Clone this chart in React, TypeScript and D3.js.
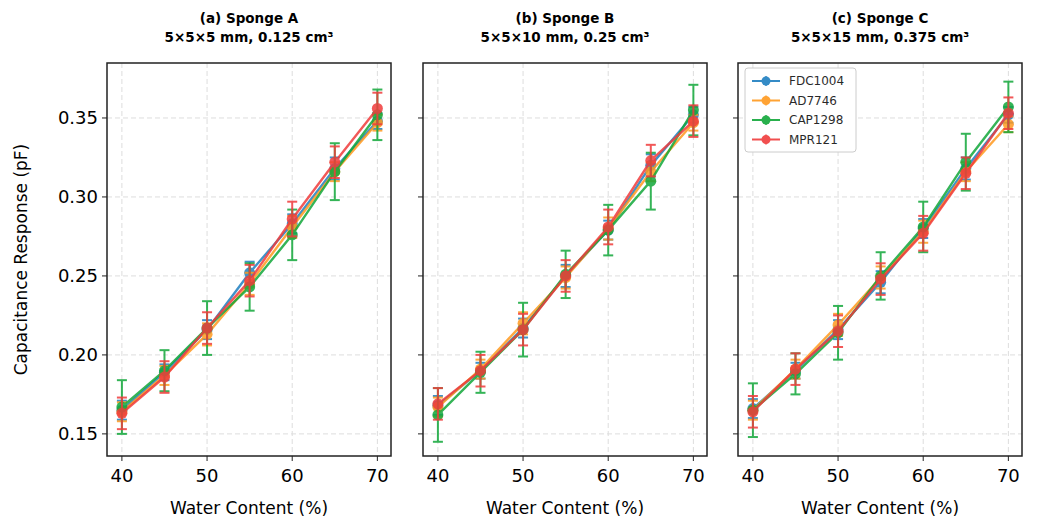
import * as d3 from 'd3';

const xs = [40, 45, 50, 55, 60, 65, 70];
const seriesNames = ['FDC1004', 'AD7746', 'CAP1298', 'MPR121'];
const colors = ['#1f7fc0', '#ff9a1f', '#12a83a', '#f03c3c'];
const titles = [['(a) Sponge A', '5×5×5 mm, 0.125 cm³'], ['(b) Sponge B', '5×5×10 mm, 0.25 cm³'], ['(c) Sponge C', '5×5×15 mm, 0.375 cm³']];
const yTicks = [0.15, 0.2, 0.25, 0.3, 0.35];
const xTicks = [40, 50, 60, 70];

const valuesA = [
  [0.165, 0.189, 0.216, 0.252, 0.283, 0.318, 0.348],
  [0.164, 0.187, 0.213, 0.245, 0.281, 0.316, 0.347],
  [0.167, 0.190, 0.217, 0.243, 0.276, 0.316, 0.352],
  [0.163, 0.186, 0.217, 0.247, 0.286, 0.322, 0.356],
];
const valuesB = [
  [0.168, 0.190, 0.217, 0.250, 0.279, 0.320, 0.352],
  [0.167, 0.191, 0.220, 0.249, 0.280, 0.316, 0.347],
  [0.162, 0.189, 0.216, 0.251, 0.279, 0.310, 0.355],
  [0.169, 0.190, 0.216, 0.250, 0.281, 0.323, 0.348],
];
const valuesC = [
  [0.166, 0.190, 0.216, 0.246, 0.280, 0.318, 0.352],
  [0.165, 0.191, 0.219, 0.249, 0.278, 0.316, 0.346],
  [0.165, 0.188, 0.214, 0.250, 0.281, 0.322, 0.357],
  [0.164, 0.191, 0.215, 0.248, 0.277, 0.315, 0.353],
];
const errors = [
  [0.006, 0.005, 0.006, 0.007, 0.006, 0.007, 0.005],
  [0.006, 0.006, 0.007, 0.007, 0.007, 0.006, 0.005],
  [0.017, 0.013, 0.017, 0.015, 0.016, 0.018, 0.016],
  [0.010, 0.010, 0.010, 0.010, 0.011, 0.010, 0.010],
];
const panels = [valuesA, valuesB, valuesC];

const W = 1038, H = 532;
const panelLeft = [107, 423, 738];
const pw = 284, top = 63, bottom = 456;

export default function App() {
  const y = d3.scaleLinear().domain([0.136, 0.3848]).range([bottom, top]);
  return (
    <svg width={W} height={H} style={{ position: 'absolute', left: 0, top: 0, fontFamily: 'DejaVu Sans' }}>
      <rect width={W} height={H} fill="white" />
      <text transform={`translate(27,${(top + bottom) / 2}) rotate(-90)`} textAnchor="middle" fontSize={17}>Capacitance Response (pF)</text>
      {panels.map((vals, p) => {
        const x = d3.scaleLinear().domain([38.25, 71.6]).range([panelLeft[p], panelLeft[p] + pw]);
        const line = d3.line<number>().x((_, i) => x(xs[i])).y(v => y(v));
        return (
          <g key={p}>
            <text x={panelLeft[p] + pw / 2} y={23} textAnchor="middle" fontSize={13.5} fontWeight="bold">{titles[p][0]}</text>
            <text x={panelLeft[p] + pw / 2} y={42} textAnchor="middle" fontSize={13.5} fontWeight="bold">{titles[p][1]}</text>
            {xTicks.map(t => <line key={'gx' + t} x1={x(t)} x2={x(t)} y1={top} y2={bottom} stroke="#ddd" strokeDasharray="5,3" />)}
            {yTicks.map(t => <line key={'gy' + t} x1={panelLeft[p]} x2={panelLeft[p] + pw} y1={y(t)} y2={y(t)} stroke="#ddd" strokeDasharray="5,3" />)}
            {vals.map((s, k) => (
              <g key={k} opacity={0.85}>
                <path d={line(s) || ''} fill="none" stroke={colors[k]} strokeWidth={2.4} />
                {s.map((v, i) => {
                  const e = errors[k][i];
                  const cx = x(xs[i]);
                  return (
                    <g key={i} stroke={colors[k]} strokeWidth={2}>
                      <line x1={cx} x2={cx} y1={y(v - e)} y2={y(v + e)} />
                      <line x1={cx - 5} x2={cx + 5} y1={y(v - e)} y2={y(v - e)} />
                      <line x1={cx - 5} x2={cx + 5} y1={y(v + e)} y2={y(v + e)} />
                      <circle cx={cx} cy={y(v)} r={5.5} fill={colors[k]} stroke="none" />
                    </g>
                  );
                })}
              </g>
            ))}
            <rect x={panelLeft[p]} y={top} width={pw} height={bottom - top} fill="none" stroke="#222" strokeWidth={1.5} />
            {xTicks.map(t => (
              <g key={'tx' + t}>
                <line x1={x(t)} x2={x(t)} y1={bottom} y2={bottom + 5} stroke="#222" />
                <text x={x(t)} y={bottom + 26} textAnchor="middle" fontSize={18}>{t}</text>
              </g>
            ))}
            {yTicks.map(t => (
              <g key={'ty' + t}>
                <line x1={panelLeft[p] - 5} x2={panelLeft[p]} y1={y(t)} y2={y(t)} stroke="#222" />
                {p === 0 && <text x={panelLeft[p] - 9} y={y(t) + 6} textAnchor="end" fontSize={18}>{t.toFixed(2)}</text>}
              </g>
            ))}
            <text x={panelLeft[p] + pw / 2} y={514} textAnchor="middle" fontSize={17}>Water Content (%)</text>
            {p === 2 && (
              <g>
                <rect x={745} y={68} width={111} height={84} fill="white" stroke="#ccc" rx={3} />
                {seriesNames.map((n, k) => (
                  <g key={n} stroke={colors[k]} opacity={0.9}>
                    <line x1={752} x2={780} y1={81 + k * 19.5} y2={81 + k * 19.5} strokeWidth={2} />
                    <line x1={766} x2={766} y1={76 + k * 19.5} y2={86 + k * 19.5} strokeWidth={1.5} />
                    <circle cx={766} cy={81 + k * 19.5} r={4.5} fill={colors[k]} stroke="none" />
                    <text x={789} y={85 + k * 19.5} fontSize={12} fill="#111" stroke="none">{n}</text>
                  </g>
                ))}
              </g>
            )}
          </g>
        );
      })}
    </svg>
  );
}
